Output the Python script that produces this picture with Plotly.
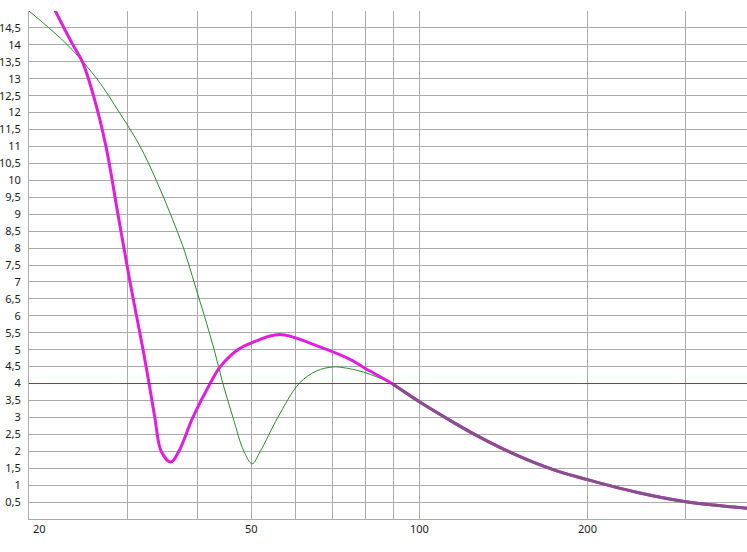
import math
import plotly.graph_objects as go

# ---- data ----
magenta_f = [20, 22.3, 23.97, 24.93, 26.09, 27.47, 28.86, 30.33, 32.01, 32.81, 33.6, 34.49,
             35.9, 37.1, 39.3, 42.2, 44.0, 47.3, 49.7, 56.2, 65.4, 75.0, 79.8]
magenta_v = [16.6, 15.0, 14.0, 13.5, 12.5, 11.0, 9.0, 7.0, 5.0, 4.0, 3.0, 2.0,
             1.68, 2.0, 3.0, 4.0, 4.5, 5.0, 5.18, 5.45, 5.12, 4.72, 4.46]

green_f = [20.0, 23.43, 26.45, 29.04, 31.63, 33.8, 35.84, 37.82, 39.49, 41.21, 42.91,
           44.48, 46.37, 48.5, 50.2, 51.9, 55.8, 60.9, 65.4, 70.0, 73.0, 79.3]
green_v = [15.0, 14.0, 13.0, 12.0, 11.0, 10.0, 9.0, 8.0, 7.0, 6.0, 5.0,
           4.0, 3.0, 2.0, 1.63, 2.0, 3.0, 4.0, 4.37, 4.49, 4.47, 4.34]

# common tail where both curves coincide
tail_f = [89.7, 100, 114.9, 126.5, 147.2, 173.5, 199.2, 244.8, 300, 386]
tail_v = [3.98, 3.46, 2.86, 2.47, 1.93, 1.46, 1.17, 0.79, 0.51, 0.32]

threshold = 4.0

x_grid = [20, 30, 40, 50, 60, 70, 80, 90, 100, 200, 300]
x_labels = {50: "50", 100: "100", 200: "200"}
first_label = 20
y_grid = [i * 0.5 for i in range(0, 31)]
x_range = [20, 386]
y_range = [0, 15]

# ---- figure ----
GRID = "#ababab"
FONT = dict(family="Noto Sans, Open Sans, DejaVu Sans, sans-serif", size=11, color="#1a1a1a")
SPLINE = dict(shape="spline", smoothing=1.0)

fig = go.Figure()
fig.add_trace(go.Scatter(x=green_f + tail_f, y=green_v + tail_v, mode="lines",
                         line=dict(color="#2e8b2e", width=1, **SPLINE),
                         hoverinfo="skip", showlegend=False))
fig.add_trace(go.Scatter(x=magenta_f + tail_f, y=magenta_v + tail_v, mode="lines",
                         line=dict(color="#e01ee0", width=3, **SPLINE),
                         hoverinfo="skip", showlegend=False))
fig.add_trace(go.Scatter(x=tail_f, y=tail_v, mode="lines",
                         line=dict(color="#86508c", width=3, **SPLINE),
                         hoverinfo="skip", showlegend=False))
fig.add_trace(go.Scatter(x=x_range, y=[threshold, threshold], mode="lines",
                         line=dict(color="#ee1111", width=1),
                         hoverinfo="skip", showlegend=False))


def ylab(v):
    if v <= 0 or v >= 15:
        return ""
    return ("%g" % v).replace(".", ",")


fig.update_xaxes(type="log", range=[math.log10(x_range[0]), math.log10(x_range[1])],
                 tickmode="array", tickvals=x_grid,
                 ticktext=[x_labels.get(v, "") for v in x_grid],
                 showgrid=True, gridcolor=GRID, gridwidth=1,
                 showline=True, linecolor=GRID, linewidth=1,
                 ticks="", tickfont=FONT, zeroline=False, automargin=False,
                 ticklabelstandoff=0, layer="below traces")
fig.update_yaxes(range=y_range, tickmode="array", tickvals=y_grid,
                 ticktext=[ylab(v) for v in y_grid],
                 showgrid=True, gridcolor=GRID, gridwidth=1,
                 showline=True, linecolor=GRID, linewidth=1,
                 ticks="", tickfont=FONT, zeroline=False, ticklabelstandoff=5,
                 automargin=False, layer="below traces")

fig.add_annotation(x=math.log10(first_label), xref="x", y=0, yref="paper",
                   text=str(first_label), showarrow=False, xanchor="left", yanchor="top",
                   xshift=2, yshift=0, font=FONT)

fig.update_layout(width=747, height=552, margin=dict(l=29, r=0, t=11, b=33),
                  paper_bgcolor="white", plot_bgcolor="white", showlegend=False)

fig.write_html("out.html", config={"displayModeBar": False},
               post_script="document.body.style.margin='0';document.body.style.overflow='hidden';")
